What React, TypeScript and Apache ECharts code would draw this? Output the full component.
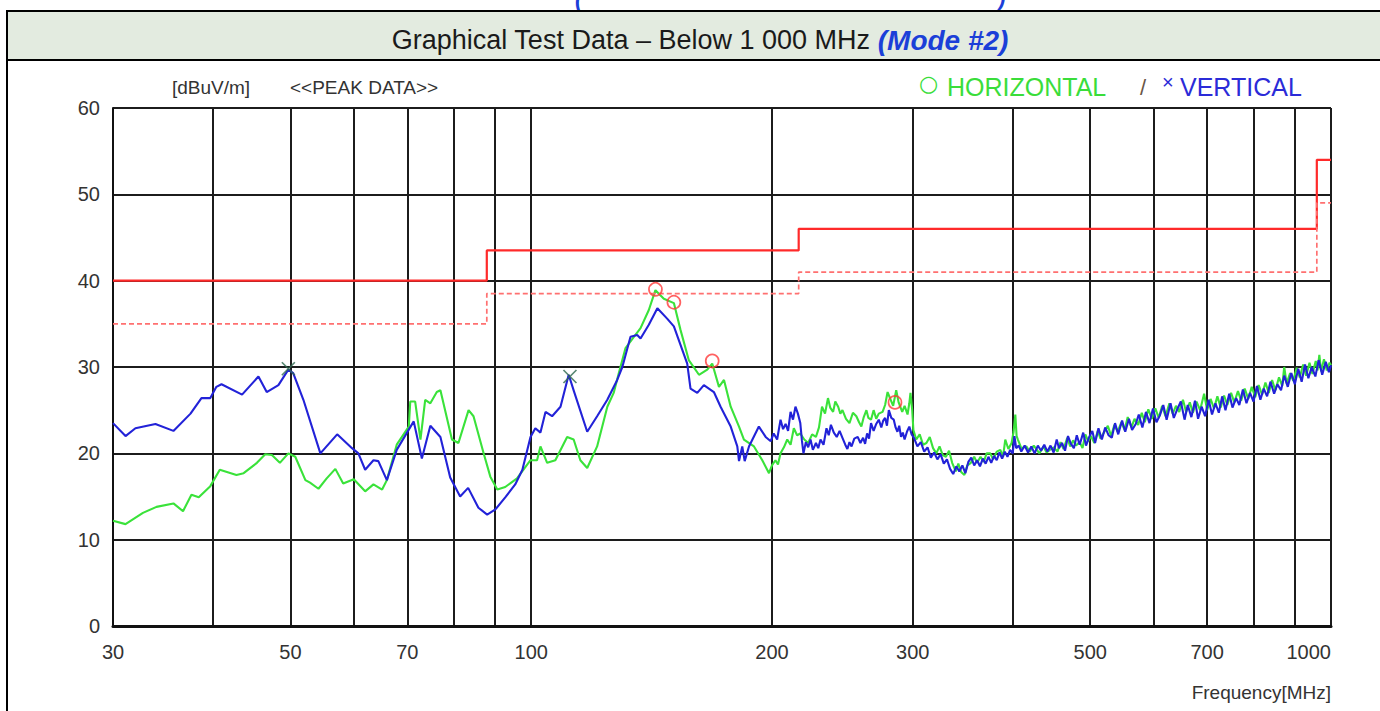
import React, { useEffect, useRef } from 'react';
import * as echarts from 'echarts';

const FONT = '"Liberation Sans", Arial, Helvetica, sans-serif';

// Axis ticks
const GRID_FREQS = [30, 40, 50, 60, 70, 80, 90, 100, 200, 300, 400, 500, 600, 700, 800, 900, 1000];
const LABEL_FREQS = [30, 50, 70, 100, 200, 300, 500, 700, 1000];

// Limit lines [MHz, dBuV/m]
const LIMIT_LINE = [[30, 40], [88, 40], [88, 43.5], [216, 43.5], [216, 46], [960, 46], [960, 54], [1000, 54]];
const MARGIN_LINE = [[30, 35], [88, 35], [88, 38.5], [216, 38.5], [216, 41], [960, 41], [960, 49], [1000, 49]];

// HORIZONTAL (green) trace
const HORIZONTAL_LOW = [
  [30, 12.2], [31.1, 11.8], [32.7, 13.1], [34.0, 13.8], [35.7, 14.2], [36.7, 13.3], [37.6, 15.2], [38.4, 14.9],
  [39.7, 16.2], [40.8, 18.1], [42.8, 17.5], [43.7, 17.7], [45.4, 18.9], [46.5, 19.9], [47.4, 19.8], [48.5, 18.9],
  [49.7, 20.0], [50.7, 19.6], [52.2, 16.9], [52.9, 16.6], [54.2, 15.9], [55.5, 17.1], [56.9, 18.2], [58.2, 16.5],
  [60.0, 17.0], [62.0, 15.6], [63.5, 16.4], [65.1, 15.8], [66.0, 16.9], [67.9, 21.0], [70.3, 23.1], [70.6, 26.0],
  [71.6, 26.0], [72.7, 21.6], [73.7, 26.2], [74.8, 25.8], [76.2, 27.1], [77.0, 27.3], [79.6, 21.6], [81.1, 21.2],
  [83.5, 25.0], [84.7, 24.3], [87.2, 20.0], [88.9, 17.3], [90.7, 15.8], [92.8, 16.1], [94.7, 16.7], [96.0, 17.1],
];
const HORIZONTAL_MID = [
  [99.8, 19.2], [101.7, 19.2], [102.7, 20.8], [104.7, 18.9], [107.2, 19.2], [110.9, 21.9], [113.0, 21.6], [115.2, 19.2],
  [117.5, 18.3], [120.9, 20.8], [124.5, 25.4], [126.8, 27.0], [128.7, 29.3], [131.2, 32.2], [134.4, 33.5], [137.0, 34.5],
  [140.3, 36.6], [143.0, 38.9], [146.5, 37.9], [150.8, 37.4], [153.7, 34.3], [157.4, 30.8], [162.1, 29.1], [166.0, 29.7],
  [168.4, 30.4], [171.7, 27.7], [174.2, 28.5], [177.6, 25.4], [181.9, 23.1], [184.5, 21.6], [189.9, 20.8], [194.5, 19.2],
  [198.3, 17.7], [200, 18.6], [202, 19.2], [203.5, 18.7], [205, 20.0], [207, 20.7], [209, 21.6], [211, 21.0],
  [213, 22.9], [215, 22.1], [217, 22.3], [219.5, 21.6], [222, 21.2], [224.5, 22.2], [227, 21.9], [229, 23.0],
  [231, 25.4], [233, 24.6], [235, 26.4], [236.5, 25.3], [238.5, 24.8], [240, 26.0], [242, 25.4], [243.5, 24.6],
  [245, 25.0], [247.5, 24.0], [250, 23.5], [252.5, 24.7], [255, 24.3], [257, 23.6], [258.7, 23.1], [260.5, 24.2],
  [262.5, 25.0], [264, 24.1], [266, 23.9], [268, 25.0], [270, 24.0], [272, 24.6], [275, 24.8], [277, 25.6],
  [279, 27.1], [281.5, 26.2], [283.5, 25.5], [286, 27.3], [288, 25.9], [291, 24.8], [293, 25.5], [295.5, 24.5],
  [297, 25.8], [298, 27.0], [299.5, 25.0],
];
const HORIZONTAL_HIGH = [
  [300.5, 22.7], [303, 21.6], [306, 22.2], [309, 21.0], [312, 21.2], [315, 21.9], [318, 20.6], [321, 20.0],
  [324, 20.8], [327, 19.8], [330, 19.6], [333, 20.3], [336, 18.9], [339.5, 17.9], [342, 18.8], [345, 17.8],
  [348, 17.5], [351, 18.6], [354.6, 18.9], [358, 19.6], [361, 18.9], [364.6, 19.6], [368, 19.0], [371, 20.0],
  [375, 20.0], [378, 19.3], [382, 20.2], [386, 20.4], [389, 19.6], [391.5, 21.6], [395, 20.5], [398.7, 21.2],
  [401, 22.5], [403, 24.5], [404.5, 22.0], [406, 21.6], [410, 20.6], [416, 20.8], [420, 20.2], [425, 20.9],
  [432, 20.0], [437, 20.8], [441, 20.1], [445, 20.4],
  [450, 20.7], [455, 20.2], [459, 21.3], [463, 20.5], [468, 21.8], [472, 20.8], [476, 21.5], [480, 20.9],
  [485, 21.3], [489, 20.6], [493, 22.2], [497, 21.4], [501, 22.0], [506, 21.2], [511, 22.6], [515, 21.7],
  [520, 22.4], [526, 23.2], [531, 22.0], [536, 23.3], [541, 22.5], [547, 23.6], [552, 22.7], [557, 24.2],
  [563, 23.0], [568, 24.0], [574, 23.3], [580, 24.7], [585, 23.6], [591, 25.1], [597, 24.0], [603, 25.2],
  [609, 24.1], [615, 25.5], [621, 24.3], [628, 25.8], [634, 24.6], [640, 25.5], [646, 24.8], [653, 26.2],
  [659, 24.8], [666, 25.9], [672, 24.7], [679, 26.0], [686, 25.0], [694, 26.9], [700, 25.0], [707, 26.3],
  [714, 25.2], [721, 26.6], [728, 25.3], [735, 26.7], [742, 25.6], [750, 27.0], [757, 25.9], [765, 27.2],
  [772, 26.1], [780, 27.5], [788, 26.3], [796, 27.7], [804, 26.5], [812, 27.9], [820, 26.8], [828, 28.2],
  [836, 27.0], [844, 28.5], [852, 27.3], [861, 28.8], [869, 27.8], [874, 30.0], [880, 28.1], [889, 29.3],
  [897, 28.4], [906, 29.9], [914, 28.8], [923, 30.3], [931, 29.0], [940, 30.5], [948, 29.2], [957, 30.7],
  [962, 29.6], [967, 31.4], [972, 29.5], [980, 30.9], [988, 29.6], [996, 30.5], [1000, 30.2],
];

// VERTICAL (blue) trace
const VERTICAL_LOW = [
  [30, 23.5], [31.1, 22.0], [32.0, 22.9], [33.9, 23.4], [35.7, 22.6], [37.5, 24.6], [38.7, 26.4], [39.7, 26.4],
  [40.4, 27.7], [41.0, 28.0], [43.5, 26.8], [45.6, 28.9], [46.7, 27.1], [48.3, 27.9], [49.7, 29.7], [50.4, 29.3],
  [51.9, 26.2], [54.5, 20.0], [57.2, 22.2], [59.7, 20.6], [60.8, 20.0], [62.0, 18.1], [63.5, 19.2], [64.4, 19.1],
  [66.0, 16.9], [67.9, 20.4], [71.3, 23.7], [73.0, 19.4], [74.8, 23.2], [77.0, 21.9], [79.2, 17.2], [81.5, 15.0],
  [83.4, 16.0], [85.9, 13.7], [88.1, 12.9], [90.2, 13.5], [92.8, 14.9], [95.5, 16.4], [97.5, 18.1],
];
const VERTICAL_MID = [
  [99.8, 21.9], [101.2, 22.9], [102.7, 22.4], [104.2, 24.8], [106.2, 24.3], [108.8, 25.4], [111.4, 29.1], [113.0, 27.3],
  [117.5, 22.5], [120.9, 24.3], [124.5, 26.2], [128.1, 28.5], [130.0, 30.0], [133.1, 33.5], [135.7, 33.7], [137.0, 33.3],
  [140.3, 34.9], [143.8, 36.8], [147.9, 35.6], [150.8, 34.7], [156.7, 30.4], [158.2, 27.5], [161.3, 27.0], [164.4, 27.9],
  [169.2, 27.1], [172.5, 25.4], [177.6, 23.1], [181.0, 20.8], [181.9, 19.1], [183.6, 20.8], [184.9, 19.1], [187.2, 20.8],
  [192.6, 23.1], [196.4, 21.9], [199.3, 21.4], [201, 22.3], [203, 21.6], [205, 23.9], [206.5, 22.8], [208, 23.4],
  [209.5, 22.6], [211, 24.8], [212.5, 23.9], [214, 25.4], [215.5, 24.6], [217, 23.5], [218, 21.5], [219, 20.0],
  [220.5, 21.3], [222, 20.7], [223.5, 21.6], [225, 20.4], [227, 21.2], [228.5, 20.6], [230, 21.6], [232, 21.0],
  [234, 22.9], [235.5, 22.1], [237, 23.3], [239, 22.4], [241, 21.9], [243, 22.6], [245, 21.8], [247, 21.0],
  [248.5, 20.5], [250, 21.3], [251.5, 20.8], [253.5, 21.7], [256, 21.9], [258, 21.2], [260, 21.8], [261.5, 21.1],
  [263, 22.3], [264.5, 21.7], [266, 23.5], [268, 22.6], [270, 23.4], [272, 23.9], [274, 23.0], [275.5, 23.8],
  [277, 24.1], [278.5, 23.2], [280, 25.0], [282, 24.1], [284, 23.9], [285.5, 23.0], [287, 22.5], [288.5, 23.2],
  [290, 21.9], [291.5, 22.4], [293, 21.6], [295, 22.5], [297, 23.1], [299, 22.2],
];
const VERTICAL_HIGH = [
  [301, 21.8], [304, 20.8], [307, 21.3], [310, 20.2], [313, 20.7], [316, 19.5], [319, 20.1], [322, 19.3],
  [325, 19.9], [328, 18.8], [331, 19.3], [334, 18.2], [337, 17.6], [340, 18.5], [343, 17.9], [346, 18.6],
  [349, 17.7], [352, 19.0], [355, 19.5], [358, 18.6], [361, 19.2], [364, 18.5], [367, 19.4], [370, 18.8],
  [373, 19.6], [376, 18.9], [379, 19.7], [382, 19.2], [385, 20.1], [388, 19.4], [391, 20.2], [394, 19.6],
  [397, 20.4], [400, 20.0], [402, 22.0], [404, 20.6], [407, 20.9], [410, 20.2], [414, 20.9], [418, 20.1],
  [422, 20.8], [426, 20.0], [430, 20.9], [434, 20.3], [438, 21.0], [442, 20.2], [446, 20.9],
  [450, 20.1], [454, 21.6], [457, 20.6], [461, 21.2], [465, 20.3], [469, 22.0], [473, 21.1], [477, 20.6],
  [481, 22.1], [485, 21.0], [490, 22.4], [494, 20.9], [498, 21.8], [503, 22.6], [507, 21.2], [512, 22.9],
  [517, 21.6], [522, 23.0], [527, 22.1], [532, 21.8], [537, 23.5], [542, 22.2], [548, 23.8], [553, 22.5],
  [559, 24.0], [564, 22.7], [570, 23.4], [575, 24.5], [581, 23.0], [587, 24.8], [593, 23.5], [599, 25.2],
  [605, 23.6], [611, 24.4], [617, 25.6], [623, 23.9], [630, 25.8], [636, 24.1], [643, 25.2], [649, 26.0],
  [656, 23.9], [662, 25.6], [669, 24.2], [676, 26.1], [682, 24.0], [689, 25.4], [696, 24.3], [703, 26.2],
  [710, 24.5], [717, 25.8], [724, 24.7], [731, 26.6], [738, 25.0], [746, 26.9], [753, 25.3], [761, 26.4],
  [768, 25.6], [776, 27.4], [784, 25.8], [792, 27.0], [800, 26.0], [808, 27.8], [816, 26.2], [824, 27.5],
  [832, 26.6], [840, 28.3], [849, 26.9], [857, 28.0], [866, 27.3], [874, 29.0], [883, 27.7], [892, 29.3],
  [901, 28.0], [910, 29.8], [919, 28.3], [928, 30.3], [937, 28.7], [946, 30.0], [956, 28.9], [965, 30.8],
  [975, 29.1], [985, 30.6], [994, 29.4], [1000, 30.2],
];

// Peak markers
const HORIZONTAL_PEAKS = [[143.0, 39.0], [150.8, 37.5], [168.4, 30.7], [285, 25.9]];
const VERTICAL_PEAKS = [[49.7, 29.8], [111.8, 28.9]];

const HORIZONTAL_TRACE = [...HORIZONTAL_LOW, ...HORIZONTAL_MID, ...HORIZONTAL_HIGH];
const VERTICAL_TRACE = [...VERTICAL_LOW, ...VERTICAL_MID, ...VERTICAL_HIGH];

export default function App() {
  const ref = useRef<HTMLDivElement>(null);
  useEffect(() => {
    const chart = echarts.init(ref.current as HTMLDivElement, null, { renderer: 'svg', width: 1380, height: 711 });
    const option: any = {
      animation: false,
      backgroundColor: '#ffffff',
      grid: { left: 113, right: 49, top: 108, bottom: 85, containLabel: false, show: false },
      xAxis: {
        type: 'log',
        logBase: 10,
        min: 30,
        max: 1000,
        axisLine: { show: true, onZero: false, lineStyle: { color: '#111', width: 3 } },
        axisTick: { show: false, customValues: GRID_FREQS },
        axisLabel: {
          customValues: LABEL_FREQS,
          fontSize: 20,
          color: '#333',
          fontFamily: FONT,
          margin: 16,
          alignMaxLabel: 'right',
          formatter: (v: number) => String(Math.round(v)),
        },
        splitLine: { show: true, lineStyle: { color: '#1c1c1c', width: 2 } },
      },
      yAxis: {
        type: 'value',
        min: 0,
        max: 60,
        interval: 10,
        axisLine: { show: true, lineStyle: { color: '#111', width: 2 } },
        axisTick: { show: false },
        axisLabel: { fontSize: 20, color: '#333', fontFamily: FONT, margin: 13 },
        splitLine: { show: true, lineStyle: { color: '#1c1c1c', width: 2 } },
      },
      graphic: [
        { type: 'text', x: 575, y: -13, style: { text: '(', font: 'italic bold 22px ' + FONT, fill: '#1b3fd8' } },
        { type: 'text', x: 998, y: -13, style: { text: ')', font: 'italic bold 22px ' + FONT, fill: '#1b3fd8' } },
        { type: 'rect', shape: { x: 7, y: 11, width: 1380, height: 49 }, style: { fill: '#e3ebe0', stroke: '#000', lineWidth: 2 } },
        { type: 'line', shape: { x1: 7, y1: 11, x2: 7, y2: 711 }, style: { stroke: '#000', lineWidth: 2 } },
        {
          type: 'text', x: 700, y: 40,
          style: {
            text: '{a|Graphical Test Data – Below 1 000 MHz }{b|(Mode #2)}',
            align: 'center', verticalAlign: 'middle',
            rich: {
              a: { fontSize: 27, fontFamily: FONT, fill: '#1a1a1a' },
              b: { fontSize: 28, fontFamily: FONT, fontWeight: 'bold', fontStyle: 'italic', fill: '#1b3fd8' },
            },
          },
        },
        { type: 'text', x: 172, y: 87, style: { text: '[dBuV/m]', fontSize: 19, fontFamily: FONT, fill: '#333', verticalAlign: 'middle' } },
        { type: 'text', x: 290, y: 87, style: { text: '<<PEAK DATA>>', fontSize: 19, fontFamily: FONT, fill: '#333', verticalAlign: 'middle' } },
        { type: 'text', x: 919, y: 83, style: { text: '○', fontSize: 22, fontFamily: '"DejaVu Sans", sans-serif', fill: '#3add3a', verticalAlign: 'middle' } },
        { type: 'text', x: 947, y: 87, style: { text: 'HORIZONTAL', fontSize: 25, fontFamily: FONT, fill: '#3add3a', verticalAlign: 'middle' } },
        { type: 'text', x: 1140, y: 87, style: { text: '/', fontSize: 22, fontFamily: FONT, fill: '#6a5646', verticalAlign: 'middle' } },
        { type: 'text', x: 1162, y: 82, style: { text: '×', fontSize: 20, fontFamily: FONT, fill: '#2b2bd8', verticalAlign: 'middle' } },
        { type: 'text', x: 1180, y: 87, style: { text: 'VERTICAL', fontSize: 25, fontFamily: FONT, fill: '#2b2bd8', verticalAlign: 'middle' } },
        { type: 'text', x: 1331, y: 692, style: { text: 'Frequency[MHz]', fontSize: 19, fontFamily: FONT, fill: '#333', align: 'right', verticalAlign: 'middle' } },
      ],
      series: [
        { type: 'line', name: 'HORIZONTAL', data: HORIZONTAL_TRACE, symbol: 'none', lineStyle: { color: '#3ae23a', width: 2.1 }, z: 3, silent: true },
        { type: 'line', name: 'VERTICAL', data: VERTICAL_TRACE, symbol: 'none', lineStyle: { color: '#2222d8', width: 2.1 }, z: 4, silent: true },
        { type: 'line', name: 'Limit', data: LIMIT_LINE, symbol: 'none', lineStyle: { color: '#ff2a2a', width: 2.2 }, z: 5, silent: true },
        { type: 'line', name: 'Margin', data: MARGIN_LINE, symbol: 'none', lineStyle: { color: '#ff7070', width: 1.7, type: [5, 3] }, z: 5, silent: true },
        {
          type: 'scatter', name: 'H peaks', data: HORIZONTAL_PEAKS, symbol: 'circle', symbolSize: 13,
          itemStyle: { color: 'transparent', borderColor: '#ff3a3a', borderWidth: 1.7 }, z: 6, silent: true,
        },
        {
          type: 'scatter', name: 'V peaks', data: VERTICAL_PEAKS, symbol: 'path://M0,0L10,10M10,0L0,10', symbolSize: 13,
          itemStyle: { color: 'transparent', borderColor: '#2f6a50', borderWidth: 1.7 }, z: 6, silent: true,
        },
      ],
    };
    chart.setOption(option);
    return () => chart.dispose();
  }, []);
  return <div ref={ref} style={{ position: 'fixed', left: 0, top: 0, width: 1380, height: 711, background: '#fff' }} />;
}
